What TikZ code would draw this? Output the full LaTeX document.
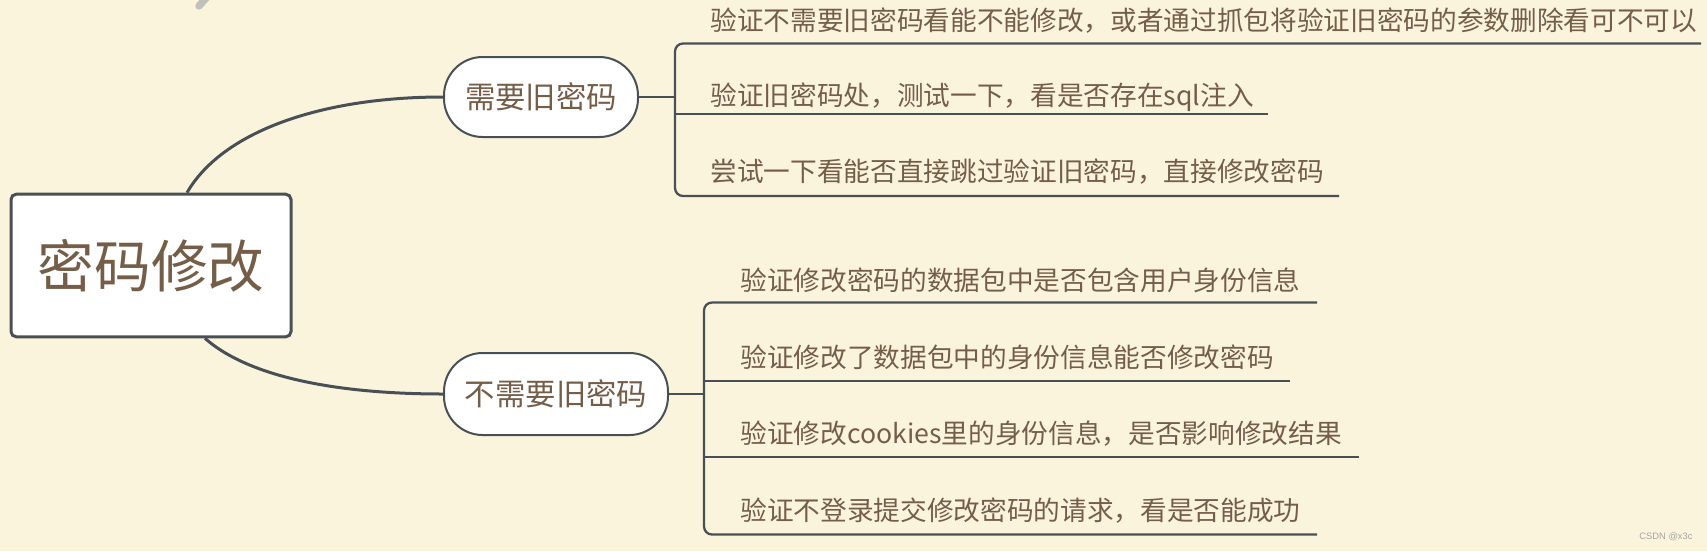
\documentclass[tikz,border=0pt]{standalone}
\usepackage{fontspec}
\setmainfont{Noto Sans CJK SC}
\newfontfamily\marksans{Liberation Sans}
\usetikzlibrary{positioning}
\definecolor{bgcream}{RGB}{251,244,221}
\definecolor{inkbrown}{RGB}{117,94,72}
\definecolor{linegray}{RGB}{72,80,86}
\definecolor{markgray}{RGB}{165,165,160}
\tikzset{every picture/.style={line width=0.75pt}}
\tikzset{
  rootbox/.style={draw=linegray, line width=2.25pt, fill=white, rounded corners=4pt,
    minimum width=210pt, minimum height=107pt, inner sep=0pt, text=inkbrown,
    font=\fontsize{42.5}{50}\selectfont},
  subbox/.style={draw=linegray, line width=1.5pt, fill=white, rounded corners=29pt,
    minimum height=60pt, inner sep=0pt, text=inkbrown,
    font=\fontsize{22.8}{27}\selectfont},
  leaf/.style={anchor=west, inner sep=0pt, text=inkbrown,
    font=\fontsize{20}{24}\selectfont},
  branch/.style={draw=linegray, line width=2.25pt},
  stem/.style={draw=linegray, line width=1.7pt, rounded corners=6pt},
}

\begin{document}
\begin{tikzpicture}[x=0.75pt,y=0.75pt,yscale=-1,xscale=1]
%set diagram left start at 0, and has height of 551
\fill[bgcream] (0,0) rectangle (1707,551);
\useasboundingbox (0,0) rectangle (1707,551);

%Shape: Watermark stroke
\draw[markgray!70, line width=5.5pt, line cap=round] (207,-3) -- (199,6);

%Shape: Rectangle
\node (root) [rootbox] at (151,265.5) {密码修改};
%Shape: Rounded Rect
\node (need) [subbox, minimum width=145.5pt] at (541,97) {需要旧密码};
%Shape: Rounded Rect
\node (noneed) [subbox, minimum width=168pt, minimum height=61.5pt] at (556,394) {不需要旧密码};

%Curve Lines
\draw[branch] (root.north) ++(36,0) .. controls (222,132) and (320,97) .. (need.west);
\draw[branch] (root.south) ++(54,0) .. controls (250,378) and (340,394) .. (noneed.west);

% bracket of the upper branch
\coordinate (b1top) at (675,43.5);
\coordinate (b1bot) at (675,196);
\coordinate (e11) at (1701,43.5);
\coordinate (e12) at (1268,114);
\coordinate (e13) at (1339,196);
\draw[stem] (need.east) -- (need.east -| b1top);
\draw[stem] (e11) -- (b1top) -- (b1bot) -- (e13);
\draw[stem] (b1top |- e12) -- (e12);

% Text Node
\node (t11) [leaf] at (710,21) {验证不需要旧密码看能不能修改，或者通过抓包将验证旧密码的参数删除看可不可以};
% Text Node
\node (t12) [leaf] at (710,97) {验证旧密码处，测试一下，看是否存在sql注入};
% Text Node
\node (t13) [leaf] at (710,172) {尝试一下看能否直接跳过验证旧密码，直接修改密码};

% bracket of the lower branch
\coordinate (b2top) at (704,302.5);
\coordinate (b2bot) at (704,534.5);
\coordinate (e21) at (1317,302.5);
\coordinate (e22) at (1290,381);
\coordinate (e23) at (1359,457);
\coordinate (e24) at (1317,534.5);
\draw[stem] (noneed.east) -- (noneed.east -| b2top);
\draw[stem] (e21) -- (b2top) -- (b2bot) -- (e24);
\draw[stem] (b2top |- e22) -- (e22);
\draw[stem] (b2top |- e23) -- (e23);

% Text Node
\node (t21) [leaf] at (740,280) {验证修改密码的数据包中是否包含用户身份信息};
% Text Node
\node (t22) [leaf] at (740,357) {验证修改了数据包中的身份信息能否修改密码};
% Text Node
\node (t23) [leaf] at (740,434) {验证修改cookies里的身份信息，是否影响修改结果};
% Text Node
\node (t24) [leaf] at (740,510.5) {验证不登录提交修改密码的请求，看是否能成功};

% Text Node
\node (mark) [text=markgray, inner sep=0pt, font=\marksans\fontsize{7}{8}\selectfont] at (1666,537) {CSDN @x3c};

\end{tikzpicture}
\end{document}
